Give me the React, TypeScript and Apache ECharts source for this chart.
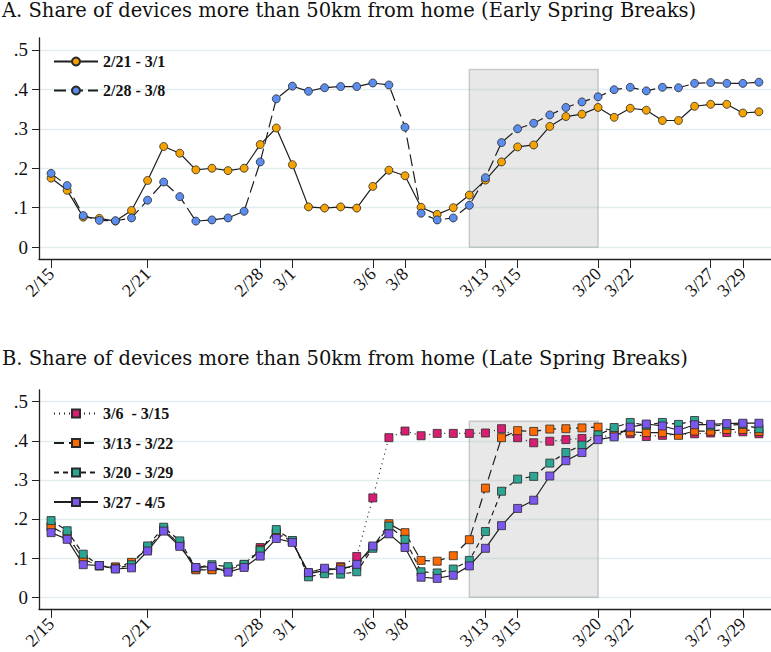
import React, { useEffect, useRef } from 'react';
import * as echarts from 'echarts';

const dates = [
  '2/15', '2/16', '2/17', '2/18', '2/19', '2/20', '2/21', '2/22', '2/23', '2/24', '2/25', '2/26', '2/27', '2/28', '2/29',
  '3/1', '3/2', '3/3', '3/4', '3/5', '3/6', '3/7', '3/8', '3/9', '3/10', '3/11', '3/12', '3/13', '3/14', '3/15',
  '3/16', '3/17', '3/18', '3/19', '3/20', '3/21', '3/22', '3/23', '3/24', '3/25', '3/26', '3/27', '3/28', '3/29', '3/30',
];
const tickDates = ['2/15', '2/21', '2/28', '3/1', '3/6', '3/8', '3/13', '3/15', '3/20', '3/22', '3/27', '3/29'];
const yTicks = [0, 0.1, 0.2, 0.3, 0.4, 0.5];
const yTickLabels = ['0', '.1', '.2', '.3', '.4', '.5'];
const shadeStart = '3/12';
const shadeEnd = '3/20';
const shadeTop = 0.45;

const titleA = 'A. Share of devices more than 50km from home (Early Spring Breaks)';
const titleB = 'B. Share of devices more than 50km from home (Late Spring Breaks)';

// Panel A
const nameA1 = '2/21 - 3/1';
const nameA2 = '2/28 - 3/8';
const earlyA1 = [
  0.175, 0.144, 0.076, 0.073, 0.066, 0.093, 0.169, 0.255, 0.238, 0.196, 0.2, 0.194, 0.2, 0.26, 0.302,
  0.209, 0.102, 0.099, 0.102, 0.099, 0.154, 0.195, 0.181, 0.101, 0.083, 0.1, 0.132, 0.17, 0.216, 0.254,
  0.259, 0.306, 0.331, 0.337, 0.354, 0.329, 0.352, 0.347, 0.321, 0.321, 0.357, 0.362, 0.362, 0.34, 0.343,
];
const earlyA2 = [
  0.187, 0.156, 0.08, 0.068, 0.067, 0.074, 0.119, 0.165, 0.128, 0.066, 0.069, 0.074, 0.091, 0.216, 0.376,
  0.408, 0.395, 0.404, 0.407, 0.407, 0.416, 0.411, 0.304, 0.086, 0.069, 0.074, 0.106, 0.176, 0.265, 0.3,
  0.314, 0.335, 0.354, 0.368, 0.381, 0.399, 0.405, 0.396, 0.405, 0.404, 0.415, 0.417, 0.415, 0.415, 0.418,
];

// Panel B
const nameB1 = '3/6  - 3/15';
const nameB2 = '3/13 - 3/22';
const nameB3 = '3/20 - 3/29';
const nameB4 = '3/27 - 4/5';
const lateB1 = [
  0.18, 0.158, 0.097, 0.08, 0.077, 0.087, 0.125, 0.172, 0.136, 0.072, 0.071, 0.072, 0.083, 0.127, 0.165,
  0.143, 0.062, 0.068, 0.078, 0.104, 0.254, 0.408, 0.425, 0.413, 0.419, 0.419, 0.419, 0.42, 0.431, 0.408,
  0.395, 0.399, 0.403, 0.406, 0.41, 0.414, 0.418, 0.411, 0.414, 0.416, 0.418, 0.42, 0.421, 0.423, 0.418,
];
const lateB2 = [
  0.181, 0.158, 0.097, 0.08, 0.077, 0.089, 0.125, 0.172, 0.135, 0.07, 0.07, 0.072, 0.08, 0.122, 0.162,
  0.143, 0.06, 0.068, 0.075, 0.078, 0.128, 0.188, 0.165, 0.094, 0.092, 0.106, 0.147, 0.279, 0.408, 0.426,
  0.424, 0.43, 0.431, 0.433, 0.435, 0.425, 0.423, 0.421, 0.421, 0.414, 0.425, 0.425, 0.429, 0.429, 0.424,
];
const lateB3 = [
  0.196, 0.17, 0.11, 0.081, 0.073, 0.083, 0.131, 0.179, 0.144, 0.075, 0.083, 0.078, 0.084, 0.119, 0.173,
  0.145, 0.052, 0.06, 0.059, 0.065, 0.125, 0.182, 0.148, 0.065, 0.062, 0.072, 0.094, 0.168, 0.271, 0.302,
  0.309, 0.343, 0.37, 0.389, 0.415, 0.434, 0.447, 0.44, 0.447, 0.442, 0.452, 0.438, 0.44, 0.442, 0.431,
];
const lateB4 = [
  0.165, 0.148, 0.083, 0.081, 0.072, 0.075, 0.118, 0.169, 0.13, 0.076, 0.078, 0.064, 0.076, 0.105, 0.15,
  0.14, 0.063, 0.074, 0.07, 0.084, 0.131, 0.162, 0.127, 0.051, 0.048, 0.056, 0.08, 0.125, 0.183, 0.227,
  0.248, 0.31, 0.349, 0.37, 0.403, 0.41, 0.435, 0.443, 0.438, 0.427, 0.441, 0.442, 0.444, 0.445, 0.445,
];

const FONT = 'Liberation Serif';
const TITLE_FONT = 'DejaVu Serif';
const LINE = '#1e1e1e';

function toPoints(vals: number[]) {
  return vals.map((v, i) => [i, v]);
}

function makeXAxis(gridIndex: number) {
  const tickIdx = tickDates.map((d) => dates.indexOf(d));
  return {
    type: 'value',
    gridIndex,
    min: -0.75,
    max: dates.length - 0.25,
    axisLine: { show: true, onZero: false, lineStyle: { color: '#222', width: 1.3 } },
    axisTick: { show: true, length: 9, customValues: tickIdx, lineStyle: { color: '#222', width: 1 } },
    axisLabel: {
      customValues: tickIdx,
      rotate: 45,
      margin: 12,
      fontFamily: FONT,
      fontSize: 18,
      color: '#111',
      formatter: (v: number) => dates[Math.round(v)] ?? '',
    },
    splitLine: { show: false },
  };
}

function makeYAxis(gridIndex: number) {
  return {
    type: 'value',
    gridIndex,
    min: -0.03,
    max: 0.53,
    axisLine: { show: true, onZero: false, lineStyle: { color: '#222', width: 1.3 } },
    axisTick: { show: true, length: 7, customValues: yTicks, lineStyle: { color: '#222', width: 1 } },
    axisLabel: {
      customValues: yTicks,
      margin: 11,
      fontFamily: FONT,
      fontSize: 19,
      color: '#111',
      formatter: (v: number) => {
        const k = yTicks.findIndex((t) => Math.abs(t - v) < 1e-6);
        return k >= 0 ? yTickLabels[k] : '';
      },
    },
    splitLine: { show: true, lineStyle: { color: '#e3edf0', width: 1.3 } },
  };
}

function makeSeries(
  name: string,
  vals: number[],
  idx: number,
  color: string,
  symbol: string,
  dash: any,
  withShade: boolean,
) {
  const s: any = {
    name,
    type: 'line',
    xAxisIndex: idx,
    yAxisIndex: idx,
    data: toPoints(vals),
    symbol,
    symbolSize: 8,
    showAllSymbol: true,
    lineStyle: { color: LINE, width: 1.2, type: dash },
    itemStyle: { color, borderColor: '#2a2a2a', borderWidth: 0.8 },
    emphasis: { disabled: true },
  };
  if (withShade) {
    s.markArea = {
      silent: true,
      itemStyle: { color: 'rgba(170,170,170,0.27)', borderColor: 'rgba(160,168,168,0.55)', borderWidth: 1.5 },
      data: [[
        { xAxis: dates.indexOf(shadeStart), yAxis: 0 },
        { xAxis: dates.indexOf(shadeEnd), yAxis: shadeTop },
      ]],
    };
  }
  return s;
}

const legendText = { fontFamily: FONT, fontWeight: 'bold', fontSize: 16, color: '#111', lineHeight: 17 };
const titleText = { fontFamily: TITLE_FONT, fontSize: 19.5, fontWeight: 'normal', color: '#111' };

export default function App() {
  const ref = useRef<HTMLDivElement>(null);
  useEffect(() => {
    if (!ref.current) return;
    const chart = echarts.init(ref.current, null, { renderer: 'svg' });
    chart.setOption({
      animation: false,
      backgroundColor: '#ffffff',
      title: [
        { text: titleA, left: 2, top: 0, padding: 0, textStyle: titleText },
        { text: titleB, left: 2, top: 348, padding: 0, textStyle: titleText },
      ],
      legend: [
        {
          data: [nameA1, nameA2], orient: 'vertical', left: 53, top: 53, itemWidth: 44, itemHeight: 10,
          itemGap: 12, padding: 0, textStyle: legendText, selectedMode: false,
        },
        {
          data: [nameB1, nameB2, nameB3, nameB4], orient: 'vertical', left: 53, top: 405, itemWidth: 44, itemHeight: 10,
          itemGap: 12.5, padding: 0, textStyle: legendText, selectedMode: false,
        },
      ],
      grid: [
        { left: 39, right: 0, top: 38, height: 221 },
        { left: 39, right: 0, top: 390, height: 221 },
      ],
      xAxis: [makeXAxis(0), makeXAxis(1)],
      yAxis: [makeYAxis(0), makeYAxis(1)],
      series: [
        makeSeries(nameA1, earlyA1, 0, '#f5a300', 'circle', 'solid', true),
        makeSeries(nameA2, earlyA2, 0, '#5b8def', 'circle', [12, 5], false),
        makeSeries(nameB1, lateB1, 1, '#d81e73', 'rect', [1, 4], true),
        makeSeries(nameB2, lateB2, 1, '#ff6a00', 'rect', [10, 5], false),
        makeSeries(nameB3, lateB3, 1, '#2ca592', 'rect', [5, 4], false),
        makeSeries(nameB4, lateB4, 1, '#7b57f0', 'rect', 'solid', false),
      ],
    });
    return () => chart.dispose();
  }, []);
  return <div ref={ref} style={{ position: 'fixed', left: 0, top: 0, width: 771, height: 652 }} />;
}
